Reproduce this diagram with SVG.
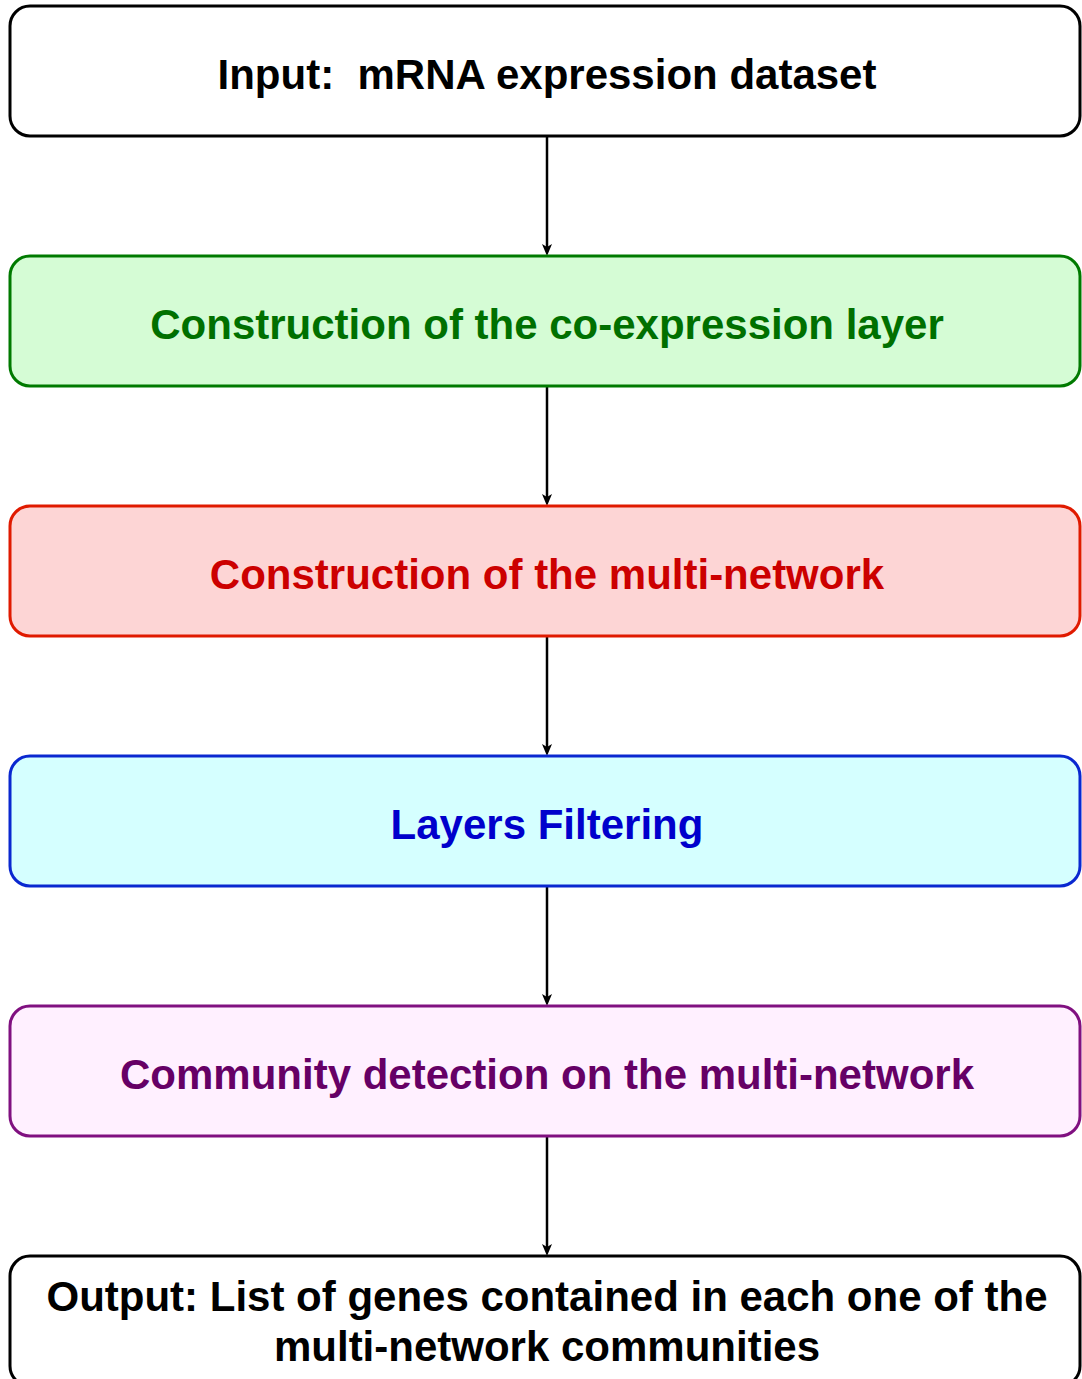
<svg xmlns="http://www.w3.org/2000/svg" width="1082" height="1379" viewBox="0 0 1082 1379">
<defs>
<style>
.box{stroke-width:3}
.t{font-family:"Liberation Sans",Arial,sans-serif;font-weight:bold;font-size:42px;text-anchor:middle;white-space:pre}
.c{stroke:#000;stroke-width:2.5;fill:none}
.h{fill:#000}
</style>
<path id="ah" d="M0,0 L-5,-12 L0,-9 L5,-12 Z"/>
</defs>
<rect width="1082" height="1379" fill="#fff"/>
<g id="connectors">
<line class="c" x1="547" y1="136" x2="547" y2="248"/><use href="#ah" class="h" x="547" y="256"/>
<line class="c" x1="547" y1="386" x2="547" y2="498"/><use href="#ah" class="h" x="547" y="506"/>
<line class="c" x1="547" y1="636" x2="547" y2="748"/><use href="#ah" class="h" x="547" y="756"/>
<line class="c" x1="547" y1="886" x2="547" y2="998"/><use href="#ah" class="h" x="547" y="1006"/>
<line class="c" x1="547" y1="1136" x2="547" y2="1248"/><use href="#ah" class="h" x="547" y="1256"/>
</g>
<g id="n1"><rect class="box" x="10" y="6" width="1070" height="130" rx="20" fill="#fff" stroke="#000"/><text class="t" x="547" y="89" fill="#000" xml:space="preserve">Input:  mRNA expression dataset</text></g>
<g id="n2"><rect class="box" x="10" y="256" width="1070" height="130" rx="20" fill="#d5fcd5" stroke="#007a00"/><text class="t" x="547" y="339" fill="#007000">Construction of the co-expression layer</text></g>
<g id="n3"><rect class="box" x="10" y="506" width="1070" height="130" rx="20" fill="#fdd5d5" stroke="#e01a00"/><text class="t" x="547" y="589" fill="#cc0000">Construction of the multi-network</text></g>
<g id="n4"><rect class="box" x="10" y="756" width="1070" height="130" rx="20" fill="#d5ffff" stroke="#0a28d0"/><text class="t" x="547" y="839" fill="#0000cc">Layers Filtering</text></g>
<g id="n5"><rect class="box" x="10" y="1006" width="1070" height="130" rx="20" fill="#fff0ff" stroke="#801080"/><text class="t" x="547" y="1089" fill="#660066">Community detection on the multi-network</text></g>
<g id="n6"><rect class="box" x="10" y="1256" width="1070" height="130" rx="20" fill="#fff" stroke="#000"/><text class="t" x="547" y="1311" fill="#000">Output: List of genes contained in each one of the</text><text class="t" x="547" y="1361" fill="#000">multi-network communities</text></g>
</svg>
